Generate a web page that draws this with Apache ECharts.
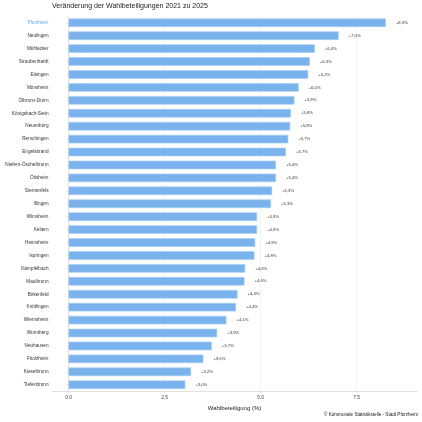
<!DOCTYPE html>
<html>
<head>
<meta charset="utf-8">
<script src="https://cdn.jsdelivr.net/npm/echarts@6/dist/echarts.min.js"></script>
<style>html,body{margin:0;padding:0;background:#fff}#c{width:422px;height:422px}</style>
</head>
<body>
<div id="c"></div>
<script>
const titleText = 'Veränderung der Wahlbeteiligungen 2021 zu 2025';
const captionText = '© Kommunale Statistikstelle - Stadt Pforzheim';
const axisTitle = 'Wahlbeteiligung (%)';
const categories = ['Pforzheim','Neulingen','Mühlacker','Straubenhardt','Eisingen','Mönsheim','Ölbronn-Dürrn','Königsbach-Stein','Neuenbürg','Remchingen','Engelsbrand','Niefern-Öschelbronn','Ötisheim','Sternenfels','Illingen','Wimsheim','Keltern','Heimsheim','Ispringen','Kämpfelbach','Maulbronn','Birkenfeld','Knittlingen','Wiernsheim','Wurmberg','Neuhausen','Friolzheim','Kieselbronn','Tiefenbronn'];
const values = [8.26,7.03,6.41,6.28,6.24,5.99,5.88,5.79,5.77,5.72,5.66,5.40,5.40,5.30,5.27,4.91,4.91,4.86,4.84,4.60,4.58,4.40,4.36,4.11,3.87,3.73,3.51,3.19,3.04];
const xTicks = [0, 2.5, 5, 7.5];
const xTickLabels = ['0.0','2.5','5.0','7.5'];

const chart = echarts.init(document.getElementById('c'), null, {renderer:'canvas'});
const font = 'Liberation Sans, Arial, sans-serif';
chart.setOption({
  backgroundColor: '#fff',
  animation: false,
  textStyle: {fontFamily: font},
  title: [
    {text: titleText, left: 52, top: 3, padding: 0, textStyle: {fontSize: 7, fontWeight: 'normal', color: '#222', fontFamily: font}},
    {text: captionText, right: 4, top: 412.5, padding: 0, textStyle: {fontSize: 4.6, fontWeight: 'normal', color: '#222', fontFamily: font}}
  ],
  grid: {left: 52, right: 5, top: 16.3, bottom: 30.8, containLabel: false},
  xAxis: {
    type: 'value',
    min: -0.43,
    max: 9.07,
    name: axisTitle,
    nameLocation: 'middle',
    nameGap: 10.5,
    nameTextStyle: {fontSize: 6, color: '#222', fontFamily: font},
    axisLine: {show: true, lineStyle: {color: '#d9d9d9', width: 0.8}},
    axisTick: {show: true, length: 2, lineStyle: {color: '#d9d9d9', width: 0.6}, customValues: xTicks},
    axisLabel: {fontSize: 4.8, color: '#444', margin: 4, customValues: xTicks,
      formatter: v => { const i = xTicks.indexOf(v); return i >= 0 ? xTickLabels[i] : ''; }},
    splitLine: {show: true, lineStyle: {color: '#ececec', width: 0.6}}
  },
  yAxis: {
    type: 'category',
    inverse: true,
    data: categories,
    axisLine: {show: true, lineStyle: {color: '#d9d9d9', width: 0.8}},
    axisTick: {show: true, length: 2, alignWithLabel: true, lineStyle: {color: '#cccccc', width: 0.6}},
    axisLabel: {fontSize: 4.7, margin: 3.5, color: (v, i) => (v === 'Pforzheim' ? '#6aaaf0' : '#333')},
    splitLine: {show: false}
  },
  series: [{
    type: 'bar',
    data: values,
    barWidth: 8.6,
    itemStyle: {color: '#79b2ec', borderColor: '#a9cff4', borderWidth: 0.7},
    label: {
      show: true, position: 'right', distance: 10, fontSize: 4.2, color: '#333',
      formatter: p => '+' + p.value.toFixed(1).replace('.', ',') + '%'
    }
  }]
});
</script>
</body>
</html>
